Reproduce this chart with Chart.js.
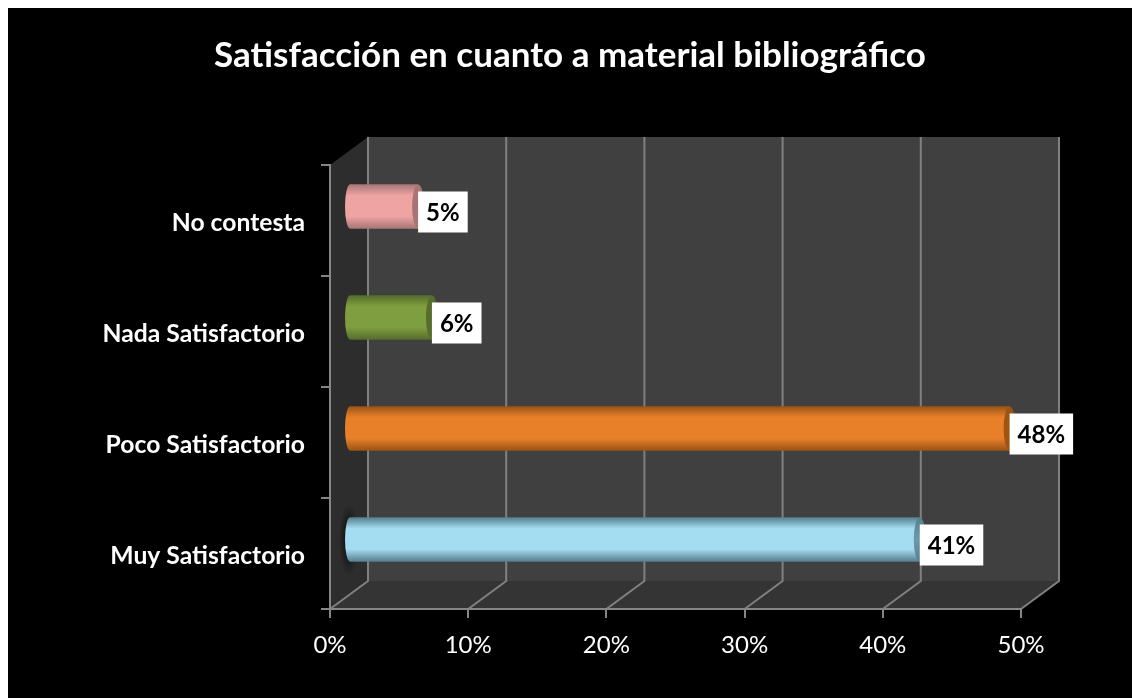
<!DOCTYPE html>
<html>
<head>
<meta charset="utf-8">
<title>Satisfacción en cuanto a material bibliográfico</title>
<script src="https://cdn.jsdelivr.net/npm/chart.js@4"></script>
<style>
  html, body { margin: 0; padding: 0; background: #fff; }
  #wrap { width: 1132px; height: 698px; }
</style>
</head>
<body>
<div id="wrap"><canvas id="chart" width="1132" height="698"></canvas></div>
<script>
const chartTitle = 'Satisfacción en cuanto a material bibliográfico';
const categories = ['No contesta', 'Nada Satisfactorio', 'Poco Satisfactorio', 'Muy Satisfactorio'];
const values     = [5, 6, 47.8, 41.3];
const xTicks     = [0, 10, 20, 30, 40, 50];

// colores del cilindro: borde, centro, tapa
const barLight = ['#efa4a4', '#7f9e3f', '#e8802a', '#a4dcf1'];
const barEdge  = ['#a87676', '#566d2b', '#9a5414', '#567f8f'];
const barCap   = ['#a87272', '#566e2b', '#a05514', '#6c9aab'];

// profundidad de la caja 3D
const DEPTH_X = 38, DEPTH_Y = 28;
const BAR_DX = 19, BAR_DY = 14;
const BAR_H = 44;

const font = 'Lato, Carlito, Calibri, sans-serif';

function barGradient(ctx, i, top, bottom) {
  const g = ctx.createLinearGradient(0, top, 0, bottom);
  g.addColorStop(0, barEdge[i]);
  g.addColorStop(0.25, barLight[i]);
  g.addColorStop(0.5, barLight[i]);
  g.addColorStop(0.72, barLight[i]);
  g.addColorStop(1, barEdge[i]);
  return g;
}

// fondo negro y caja 3D
const boxPlugin = {
  id: 'box3d',
  beforeDraw(chart) {
    const c = chart.ctx, x = chart.scales.x, y = chart.scales.y, a = chart.chartArea;
    c.save();
    c.fillStyle = '#000';
    c.fillRect(8, 8, chart.width - 8, chart.height - 8);

    c.fillStyle = '#404040';
    c.fillRect(a.left + DEPTH_X, a.top - DEPTH_Y, a.width, a.height);

    c.fillStyle = '#2d2d2d';
    c.beginPath();
    c.moveTo(a.left, a.bottom);
    c.lineTo(a.left + DEPTH_X, a.bottom - DEPTH_Y);
    c.lineTo(a.left + DEPTH_X, a.top - DEPTH_Y);
    c.lineTo(a.left, a.top);
    c.closePath();
    c.fill();

    c.fillStyle = '#343434';
    c.beginPath();
    c.moveTo(a.left, a.bottom);
    c.lineTo(a.right, a.bottom);
    c.lineTo(a.right + DEPTH_X, a.bottom - DEPTH_Y);
    c.lineTo(a.left + DEPTH_X, a.bottom - DEPTH_Y);
    c.closePath();
    c.fill();

    // sombra de la ultima barra sobre la pared
    const sx = x.getPixelForValue(0) + BAR_DX, sy = y.getPixelForValue(3) - BAR_DY;
    c.translate(sx, sy);
    c.scale(0.28, 1);
    const s = c.createRadialGradient(0, 0, 8, 0, 0, 36);
    s.addColorStop(0, 'rgba(0,0,0,0.65)');
    s.addColorStop(1, 'rgba(0,0,0,0)');
    c.fillStyle = s;
    c.beginPath();
    c.arc(0, 0, 36, 0, Math.PI * 2);
    c.fill();
    c.setTransform(1, 0, 0, 1, 0, 0);

    c.strokeStyle = '#808080';
    c.lineWidth = 2;
    xTicks.forEach(v => {
      const px = x.getPixelForValue(v);
      c.beginPath();
      c.moveTo(px, a.bottom);
      c.lineTo(px + DEPTH_X, a.bottom - DEPTH_Y);
      c.lineTo(px + DEPTH_X, a.top - DEPTH_Y);
      c.stroke();
    });
    c.restore();
  },
  // las barras van a media profundidad
  beforeDatasetDraw(chart) {
    const c = chart.ctx;
    c.save();
    c.translate(BAR_DX, -BAR_DY);
    chart.getDatasetMeta(0).data.forEach((bar, i) => {
      const h = bar.height / 2;
      c.fillStyle = barGradient(c, i, bar.y - h, bar.y + h);
      c.beginPath();
      c.ellipse(bar.base, bar.y, 5, h, 0, Math.PI / 2, Math.PI * 1.5);
      c.fill();
    });
  },
  afterDatasetDraw(chart) {
    const c = chart.ctx;
    chart.getDatasetMeta(0).data.forEach((bar, i) => {
      const h = bar.height / 2;
      const g = c.createLinearGradient(0, bar.y - h, 0, bar.y + h);
      g.addColorStop(0, barEdge[i]);
      g.addColorStop(0.5, barCap[i]);
      g.addColorStop(1, barEdge[i]);
      c.fillStyle = g;
      c.beginPath();
      c.ellipse(bar.x, bar.y, 6, h, 0, 0, Math.PI * 2);
      c.fill();
    });
    c.restore();
  },
  afterDatasetsDraw(chart) {
    const c = chart.ctx;
    c.save();
    c.font = 'bold 24px ' + font;
    c.textAlign = 'center';
    c.textBaseline = 'middle';
    chart.getDatasetMeta(0).data.forEach((bar, i) => {
      const label = Math.round(values[i]) + '%';
      const w = c.measureText(label).width + 16;
      const left = bar.x + BAR_DX;
      const cy = bar.y - BAR_DY + 5.5;
      c.fillStyle = '#fff';
      c.fillRect(left, cy - 20.5, w, 41);
      c.fillStyle = '#000';
      c.fillText(label, left + w / 2, cy + 1.5);
    });
    c.restore();
  }
};

new Chart(document.getElementById('chart'), {
  type: 'bar',
  data: {
    labels: categories,
    datasets: [{
      data: values,
      barThickness: BAR_H,
      borderSkipped: false,
      backgroundColor: ctx => {
        if (ctx.type !== 'data') return barLight[0];
        const py = ctx.chart.scales.y.getPixelForValue(ctx.dataIndex);
        if (!Number.isFinite(py)) return barLight[ctx.dataIndex];
        return barGradient(ctx.chart.ctx, ctx.dataIndex, py - BAR_H / 2, py + BAR_H / 2);
      }
    }]
  },
  plugins: [boxPlugin],
  options: {
    indexAxis: 'y',
    responsive: false,
    animation: false,
    layout: { padding: { left: 8, right: 0, top: 0, bottom: 0 } },
    plugins: {
      legend: { display: false },
      tooltip: { enabled: false },
      title: {
        display: true,
        text: chartTitle,
        color: '#fff',
        font: { family: font, size: 35, weight: 'bold' },
        padding: { top: 35, bottom: 88 }
      }
    },
    scales: {
      x: {
        min: 0,
        max: 50,
        afterBuildTicks: s => { s.ticks = xTicks.map(v => ({ value: v })); },
        afterFit: s => { s.height = 89; },
        grid: { drawOnChartArea: false, color: '#868686', tickLength: 9, lineWidth: 2 },
        border: { color: '#868686', width: 2 },
        ticks: {
          color: '#fff',
          padding: 13,
          maxRotation: 0,
          font: { family: font, size: 24 },
          callback: v => v + '%'
        }
      },
      y: {
        type: 'category',
        afterFit: s => { s.width = 322; },
        grid: { drawOnChartArea: false, offset: true, color: '#868686', tickLength: 9, lineWidth: 2 },
        border: { color: '#868686', width: 2 },
        ticks: {
          color: '#fff',
          padding: 16,
          labelOffset: 3,
          font: { family: font, size: 24.7, weight: 'bold' }
        }
      },
      // solo reserva el margen derecho
      y2: {
        type: 'linear',
        position: 'right',
        afterFit: s => { s.width = 111; },
        grid: { display: false },
        border: { display: false },
        ticks: { display: false }
      }
    }
  }
});
</script>
</body>
</html>
